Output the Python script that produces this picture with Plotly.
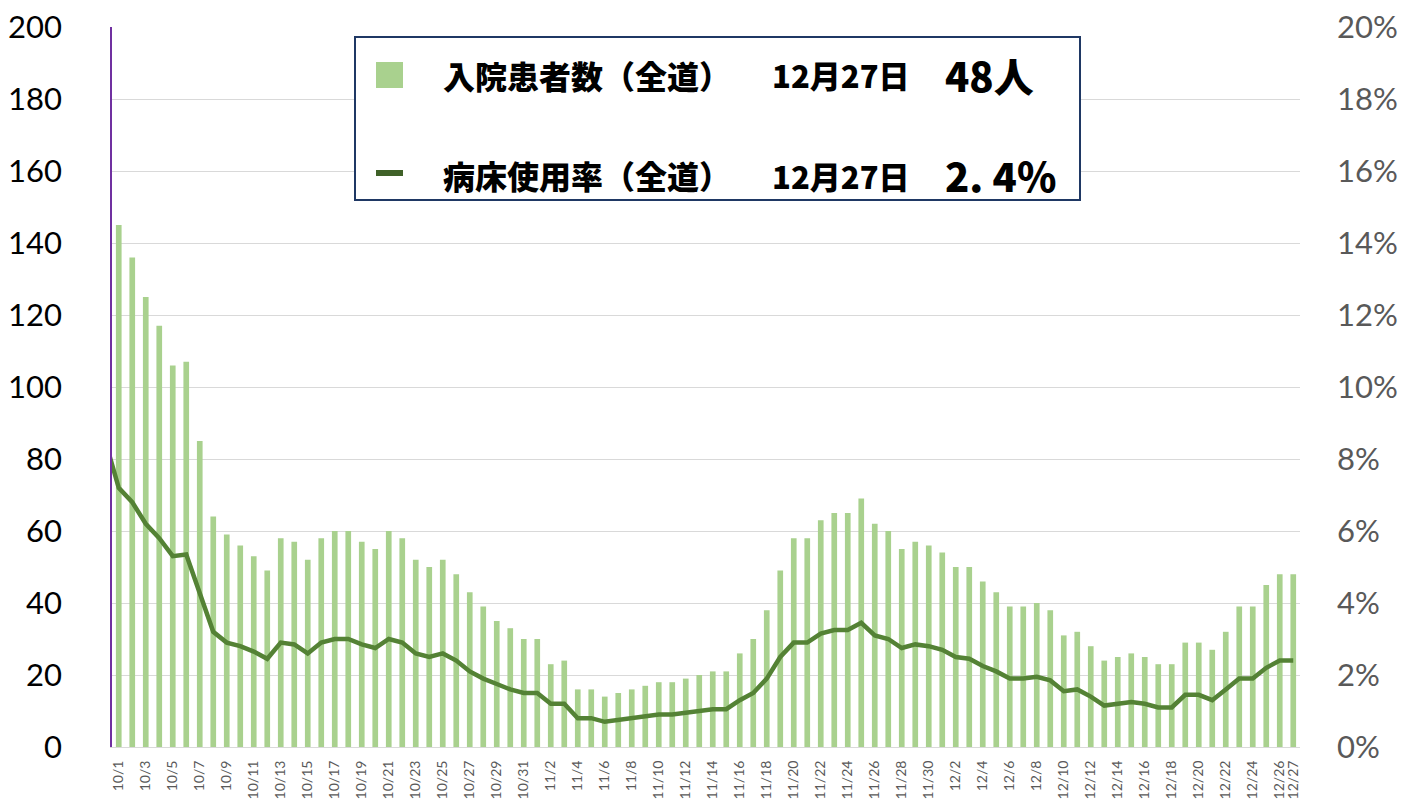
import plotly.graph_objects as go

# ---- data ----
dates = ([f"10/{d}" for d in range(1, 32)] +
         [f"11/{d}" for d in range(1, 31)] +
         [f"12/{d}" for d in range(1, 28)])

inpatients = [
    # Oct
    145, 136, 125, 117, 106, 107, 85, 64, 59, 56, 53, 49, 58, 57, 52, 58, 60, 60, 57, 55,
    60, 58, 52, 50, 52, 48, 43, 39, 35, 33, 30,
    # Nov
    30, 23, 24, 16, 16, 14, 15, 16, 17, 18, 18, 19, 20, 21, 21, 26, 30, 38, 49, 58,
    58, 63, 65, 65, 69, 62, 60, 55, 57, 56,
    # Dec
    54, 50, 50, 46, 43, 39, 39, 40, 38, 31, 32, 28, 24, 25, 26, 25, 23, 23, 29, 29,
    27, 32, 39, 39, 45, 48, 48,
]

bed_rate = [
    # Oct
    7.2, 6.8, 6.2, 5.8, 5.3, 5.35, 4.3, 3.2, 2.9, 2.8, 2.65, 2.45, 2.9, 2.85, 2.6, 2.9, 3.0, 3.0, 2.85, 2.75,
    3.0, 2.9, 2.6, 2.5, 2.6, 2.4, 2.1, 1.9, 1.75, 1.6, 1.5,
    # Nov
    1.5, 1.2, 1.2, 0.8, 0.8, 0.7, 0.75, 0.8, 0.85, 0.9, 0.9, 0.95, 1.0, 1.05, 1.05, 1.3, 1.5, 1.9, 2.5, 2.9,
    2.9, 3.15, 3.25, 3.25, 3.45, 3.1, 3.0, 2.75, 2.85, 2.8,
    # Dec
    2.7, 2.5, 2.45, 2.25, 2.1, 1.9, 1.9, 1.95, 1.85, 1.55, 1.6, 1.4, 1.15, 1.2, 1.25, 1.2, 1.1, 1.1, 1.45, 1.45,
    1.3, 1.6, 1.9, 1.9, 2.2, 2.4, 2.4,
]
prev_day_rate = 8.5  # 9/30, only its segment into 10/1 is visible

left_ticks = [0, 20, 40, 60, 80, 100, 120, 140, 160, 180, 200]
right_ticks = [0, 2, 4, 6, 8, 10, 12, 14, 16, 18, 20]

legend_row1 = ["入院患者数（全道）", "12月27日", "48人"]
legend_row2 = ["病床使用率（全道）", "12月27日", "2. 4%"]

# ---- positions ----
xpos = list(range(len(dates)))
tick_idx = list(range(0, len(dates), 2))
if tick_idx[-1] != len(dates) - 1:
    tick_idx.append(len(dates) - 1)

W, H = 1407, 799
# plot area in screen pixels
L, R, T, B = 112, 1300, 27, 747


def px(x):
    return (x - L) / (R - L)


def py(y):
    return (B - y) / (B - T)


BAR_C = "#A9D18E"
LINE_C = "#548235"
TICKFONT = "Lato"

fig = go.Figure()
fig.add_trace(go.Bar(x=xpos, y=inpatients, marker=dict(color=BAR_C, line=dict(width=0)),
                     yaxis="y", showlegend=False))
fig.add_trace(go.Scatter(x=[-1] + xpos, y=[prev_day_rate] + bed_rate, mode="lines",
                         line=dict(color=LINE_C, width=4.5), yaxis="y2", showlegend=False))

fig.update_layout(
    width=W, height=H,
    margin=dict(l=L, r=W - R, t=T, b=H - B, pad=0, autoexpand=False),
    paper_bgcolor="white", plot_bgcolor="white",
    bargap=0.58,
    xaxis=dict(range=[-0.5, len(dates) - 0.5], tickmode="array",
               tickvals=tick_idx, ticktext=[dates[i] for i in tick_idx],
               tickangle=-90, tickfont=dict(family=TICKFONT, size=14, color="#595959"),
               showgrid=False, zeroline=False, showline=True, linecolor="#D9D9D9", linewidth=1,
               ticks="", ticklabelstandoff=7, automargin=False, ticklabeloverflow="allow"),
    yaxis=dict(range=[0, 200], tickmode="array", tickvals=left_ticks,
               tickfont=dict(family=TICKFONT, size=31, color="#000000"),
               showgrid=True, gridcolor="#D9D9D9", gridwidth=1, zeroline=False,
               showline=True, linecolor="#7030A0", linewidth=1.5, ticks="",
               ticklabelstandoff=42, automargin=False, ticklabeloverflow="allow"),
    yaxis2=dict(range=[0, 20], overlaying="y", side="right", tickmode="array",
                tickvals=right_ticks, ticktext=[f"{v}%" for v in right_ticks],
                tickfont=dict(family=TICKFONT, size=31, color="#595959"),
                showgrid=False, zeroline=False, showline=False, ticks="",
                ticklabelstandoff=36, automargin=False, ticklabeloverflow="allow"),
)

# legend box
shapes = [
    dict(type="rect", xref="paper", yref="paper", x0=px(355), x1=px(1080), y0=py(200), y1=py(37),
         line=dict(color="#1F3864", width=2), fillcolor="white", layer="above"),
    dict(type="rect", xref="paper", yref="paper", x0=px(376), x1=px(403), y0=py(88), y1=py(62),
         line=dict(width=0), fillcolor=BAR_C, layer="above"),
    dict(type="rect", xref="paper", yref="paper", x0=px(376), x1=px(403), y0=py(176), y1=py(170),
         line=dict(width=0), fillcolor="#3F6128", layer="above"),
]
fig.update_layout(shapes=shapes)

jp = "Noto Sans CJK JP Black, Noto Sans CJK JP"
annots = []
for row, yc in ((legend_row1, 75), (legend_row2, 175)):
    for txt, x0, size in zip(row, (441, 770, 943), (32, 31, 40)):
        annots.append(dict(text=txt, xref="paper", yref="paper", x=px(x0), y=py(yc),
                           xanchor="left", yanchor="middle", showarrow=False,
                           font=dict(family=jp, size=size, color="black", weight=900)))
fig.update_layout(annotations=annots)

fig.write_html(
    "out.html",
    config={"displayModeBar": False},
    post_script="document.body.style.margin='0';document.body.style.overflow='hidden';",
)
